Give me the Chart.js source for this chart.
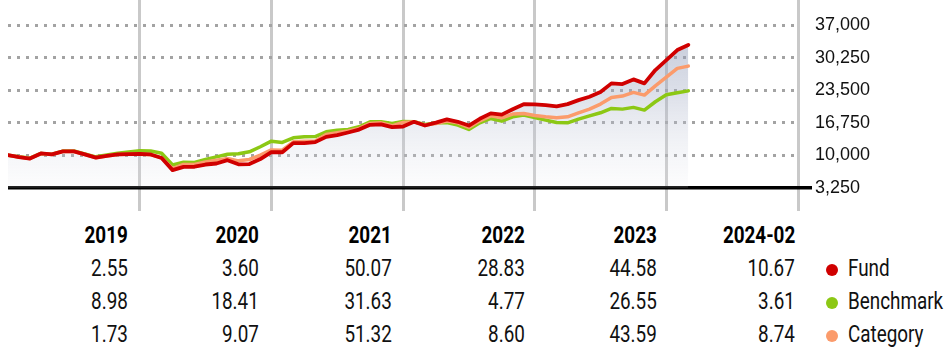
<!DOCTYPE html>
<html>
<head>
<meta charset="utf-8">
<script src="https://cdn.jsdelivr.net/npm/chart.js@4/dist/chart.umd.min.js"></script>
<style>
  body { margin: 0; background: #fff; width: 948px; height: 360px; overflow: hidden; position: relative; }
  #wrap { position: absolute; left: 0; top: 0; width: 948px; height: 211px; }
  .cell { position: absolute; font-family: "Roboto", sans-serif; font-size: 23px; line-height: 33px; color: #111; white-space: nowrap; text-align: right; transform: scaleX(0.82); transform-origin: right center; }
  .head { font-weight: bold; color: #000; }
  .dot { position: absolute; width: 12px; height: 12px; border-radius: 50%; }
  .lbl { position: absolute; font-family: "Roboto", sans-serif; font-size: 23px; line-height: 33px; color: #111; white-space: nowrap; transform: scaleX(0.82); transform-origin: left center; }
</style>
</head>
<body>
<div id="wrap"><canvas id="myChart" width="948" height="211"></canvas></div>
<div id="table"></div>
<script>
// growth of 10,000, monthly from 2018-12 to 2024-02 (index = month)
const fund = [10000, 9600, 9300, 10350, 10150, 10800, 10800, 10150, 9500, 9850, 10150, 10200, 10255,
  10150, 9400, 6900, 7570, 7600, 8060, 8270, 8960, 8100, 8150, 9200, 10624,
  10600, 12500, 12500, 12700, 13800, 14150, 14700, 15300, 16300, 16400, 15800, 15944,
  16920, 16150, 16750, 17410, 16920, 16150, 17550, 18660, 18400, 19520, 20560, 20541,
  20390, 20100, 20590, 21420, 22110, 23100, 24890, 24750, 25720, 24890, 27650, 29698,
  31810, 32867];
const benchmark = [10000, 9650, 9400, 10350, 10200, 10850, 10850, 10250, 9650, 10050, 10400, 10650, 10898,
  10850, 10400, 7950, 8550, 8500, 9100, 9650, 10200, 10280, 10700, 11740, 12904,
  12650, 13600, 13800, 13850, 14840, 15190, 15340, 15880, 16920, 16920, 16580, 16986,
  16920, 16370, 16700, 16790, 16230, 15340, 16700, 17620, 17060, 17950, 18310, 17796,
  17270, 16790, 16710, 17480, 18160, 18790, 19700, 19550, 19910, 19350, 21080, 22521,
  22940, 23334];
const category = [10000, 9600, 9320, 10330, 10130, 10780, 10790, 10130, 9480, 9830, 10130, 10170, 10173,
  10100, 9450, 7200, 8070, 8070, 8610, 8960, 9300, 8820, 9100, 10000, 11096,
  11040, 12760, 12900, 12950, 14300, 14630, 15000, 15540, 16580, 16700, 16090, 16790,
  16920, 16240, 16580, 17060, 16700, 15750, 17120, 18160, 17750, 18520, 18660, 18234,
  17950, 17750, 17950, 18790, 19550, 20590, 21980, 22250, 23020, 22460, 24390, 26182,
  28000, 28470];

const yTicks = [3250, 10000, 16750, 23500, 30250, 37000];
const yearEnds = [12, 24, 36, 48, 60, 72];

// annual returns table
const years = ["2019", "2020", "2021", "2022", "2023", "2024-02"];
const fundReturns = ["2.55", "3.60", "50.07", "28.83", "44.58", "10.67"];
const benchReturns = ["8.98", "18.41", "31.63", "4.77", "26.55", "3.61"];
const catReturns = ["1.73", "9.07", "51.32", "8.60", "43.59", "8.74"];
const seriesNames = ["Fund", "Benchmark", "Category"];
const seriesColors = ["#d00000", "#8cc814", "#fb9b6b"];

const toXY = arr => arr.map((v, i) => ({ x: i, y: v }));

var ctx = document.getElementById('myChart').getContext('2d');
var myChart = new Chart(ctx, {
  type: 'line',
  data: {
    datasets: [
      {
        label: "Fund",
        data: toXY(fund),
        borderColor: seriesColors[0],
        borderWidth: 3.8,
        order: 1,
        fill: { value: 3250 },
        backgroundColor: (context) => {
          const chart = context.chart;
          const { ctx, chartArea, scales } = chart;
          if (!chartArea) {
            return null;
          }
          const gradient = ctx.createLinearGradient(0, chartArea.top, 0, scales.y.getPixelForValue(3250));
          gradient.addColorStop(0, 'rgba(130, 142, 172, 0.6)');
          gradient.addColorStop(0.5, 'rgba(165, 174, 198, 0.38)');
          gradient.addColorStop(1, 'rgba(235, 236, 242, 0.15)');
          return gradient;
        },
      },
      {
        label: "Category",
        data: toXY(category),
        borderColor: seriesColors[2],
        borderWidth: 3.5,
        order: 2,
        fill: false,
      },
      {
        label: "Benchmark",
        data: toXY(benchmark),
        borderColor: seriesColors[1],
        borderWidth: 3.5,
        order: 3,
        fill: false,
      },
    ]
  },
  options: {
    responsive: false,
    animation: false,
    layout: { padding: { left: 8, top: 0, right: 0, bottom: 0 } },
    elements: { point: { radius: 0 }, line: { tension: 0, borderCapStyle: 'round', borderJoinStyle: 'round' } },
    plugins: {
      legend: { display: false },
      tooltip: { enabled: false },
      filler: { drawTime: 'beforeDatasetsDraw' },
    },
    scales: {
      x: {
        type: 'linear',
        min: 0,
        max: 72,
        afterBuildTicks: (scale) => { scale.ticks = yearEnds.map(v => ({ value: v })); },
        afterFit: (scale) => { scale.height = 0; scale.paddingLeft = 0; scale.paddingRight = 0; },
        ticks: { display: false },
        grid: { color: '#c9c9c9', lineWidth: 3, drawTicks: false },
        border: { display: false },
      },
      y: {
        position: 'right',
        min: -1583,
        max: 42186,
        afterBuildTicks: (scale) => { scale.ticks = yTicks.map(v => ({ value: v })); },
        afterFit: (scale) => { scale.width = 150; scale.paddingTop = 0; scale.paddingBottom = 0; },
        ticks: {
          padding: 3,
          color: '#111',
          font: { family: '"Liberation Sans", Arial, sans-serif', size: 18 },
          callback: (v) => v.toLocaleString('en-US'),
        },
        grid: {
          color: (c) => c.tick && c.tick.value === 3250 ? '#000' : '#a3a3a3',
          lineWidth: (c) => c.tick && c.tick.value === 3250 ? 3.5 : 3,
          drawTicks: true,
          tickLength: 14,
          tickWidth: 3.5,
          tickColor: (c) => c.tick && c.tick.value === 3250 ? '#000' : 'rgba(0,0,0,0)',
        },
        border: {
          display: false,
          dash: (c) => c.tick && c.tick.value === 3250 ? [] : [3, 6],
        },
      },
    },
  },
});

// table under the chart
const colRight = [128, 259, 392, 525, 657, 795];
const rowTop = [219, 252, 285, 318];
const table = document.getElementById('table');
function addCell(text, right, top, cls) {
  const d = document.createElement('div');
  d.className = 'cell' + (cls ? ' ' + cls : '');
  d.textContent = text;
  d.style.right = (948 - right) + 'px';
  d.style.top = top + 'px';
  table.appendChild(d);
}
years.forEach((y, i) => addCell(y, colRight[i], rowTop[0], 'head'));
[fundReturns, benchReturns, catReturns].forEach((row, r) => {
  row.forEach((v, i) => addCell(v, colRight[i], rowTop[r + 1]));
  const dot = document.createElement('div');
  dot.className = 'dot';
  dot.style.background = seriesColors[r];
  dot.style.left = '826px';
  dot.style.top = (rowTop[r + 1] + 12) + 'px';
  table.appendChild(dot);
  const l = document.createElement('div');
  l.className = 'lbl';
  l.textContent = seriesNames[r];
  l.style.left = '848px';
  l.style.top = rowTop[r + 1] + 'px';
  table.appendChild(l);
});
</script>
</body>
</html>
